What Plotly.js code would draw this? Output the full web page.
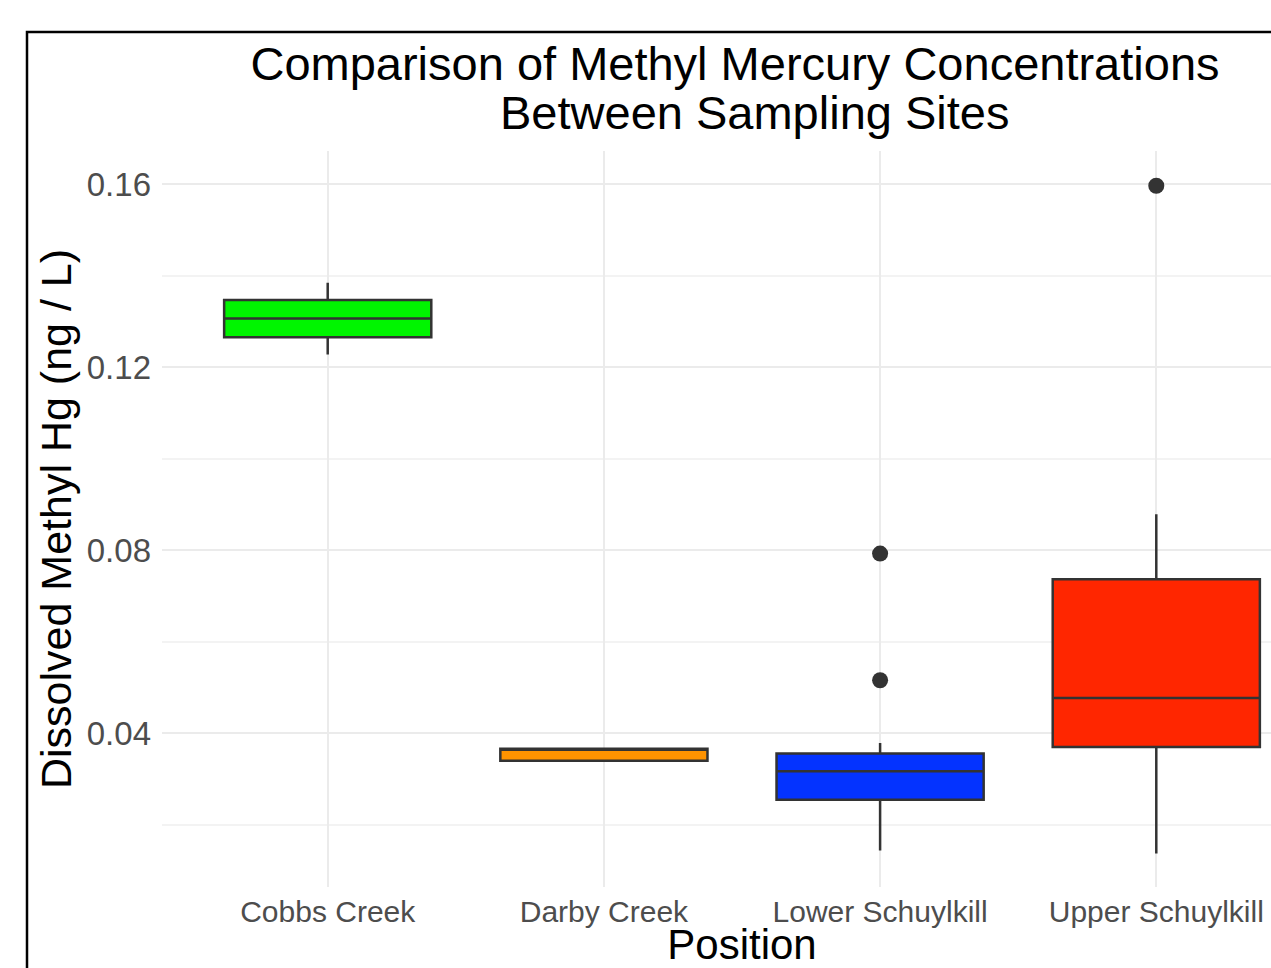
<!DOCTYPE html>
<html>
<head>
<meta charset="utf-8">
<script src="https://cdn.plot.ly/plotly-3.0.1.min.js"></script>
<style>html,body{margin:0;padding:0;background:#fff;overflow:hidden;width:1271px;height:968px;}#chart{width:1322px;height:968px;}</style>
</head>
<body>
<div id="chart"></div>
<script>
// Data
var categories = ["Cobbs Creek", "Darby Creek", "Lower Schuylkill", "Upper Schuylkill"];
var lowerWhisker = [0.1228, 0.0340, 0.0144, 0.0137];
var q1Values     = [0.1266, 0.0340, 0.0255, 0.0370];
var medianValues = [0.1307, 0.0366, 0.0317, 0.0477];
var q3Values     = [0.1347, 0.0366, 0.0356, 0.0737];
var upperWhisker = [0.1385, 0.0366, 0.0379, 0.0879];
var fillColors   = ["#00F500", "#FF9300", "#0433FF", "#FF2600"];
var outlierSites  = ["Lower Schuylkill", "Lower Schuylkill", "Upper Schuylkill"];
var outlierValues = [0.0793, 0.0516, 0.1597];
var yTickVals = [0.04, 0.08, 0.12, 0.16];
var yTickText = ["0.04", "0.08", "0.12", "0.16"];

var FONT = "Liberation Sans, Arial, Helvetica, sans-serif";
var W = 1322, ML = 162;

var traces = categories.map(function (c, i) {
  return {
    type: "box",
    x: [c],
    q1: [q1Values[i]],
    median: [medianValues[i]],
    q3: [q3Values[i]],
    lowerfence: [lowerWhisker[i]],
    upperfence: [upperWhisker[i]],
    width: 0.75,
    whiskerwidth: 0,
    fillcolor: fillColors[i],
    line: {color: "#333333", width: 2.5},
    boxpoints: false,
    hoverinfo: "skip",
    showlegend: false
  };
});

traces.push({
  type: "scatter",
  mode: "markers",
  x: outlierSites,
  y: outlierValues,
  marker: {color: "#333333", size: 16},
  hoverinfo: "skip",
  showlegend: false
});

var layout = {
  width: W,
  height: 968,
  margin: {l: ML, r: 0, t: 151, b: 81},
  paper_bgcolor: "#ffffff",
  plot_bgcolor: "#ffffff",
  boxmode: "overlay",
  font: {family: FONT, color: "#4D4D4D"},
  title: {
    text: "Comparison of Methyl Mercury Concentrations",
    font: {family: FONT, size: 47, color: "#000000"},
    xref: "paper",
    x: (735 - ML) / (W - ML),
    xanchor: "center",
    yref: "container",
    y: 1 - 64 / 968,
    yanchor: "middle"
  },
  annotations: [{
    text: "Between Sampling Sites",
    xref: "paper",
    yref: "paper",
    x: (754 - ML) / (W - ML),
    y: 1.052,
    xanchor: "center",
    yanchor: "middle",
    showarrow: false,
    font: {family: FONT, size: 47, color: "#000000"}
  }],
  xaxis: {
    type: "category",
    categoryorder: "array",
    categoryarray: categories,
    range: [-0.6, 3.6],
    showgrid: true,
    gridcolor: "#EBEBEB",
    gridwidth: 2,
    zeroline: false,
    showline: false,
    ticks: "",
    ticklabelstandoff: 4,
    tickfont: {family: FONT, size: 30, color: "#4D4D4D"},
    title: {text: "Position", font: {family: FONT, size: 42, color: "#000000"}, standoff: 12}
  },
  yaxis: {
    range: [0.0064, 0.1673],
    tickvals: yTickVals,
    ticktext: yTickText,
    showgrid: true,
    gridcolor: "#EBEBEB",
    gridwidth: 2,
    minor: {dtick: 0.02, tick0: 0, showgrid: true, gridcolor: "#F3F3F3", gridwidth: 1.5, ticks: ""},
    zeroline: false,
    showline: false,
    ticks: "",
    ticklabelstandoff: 10,
    tickfont: {family: FONT, size: 33, color: "#4D4D4D"},
    title: {text: "Dissolved Methyl Hg (ng / L)", font: {family: FONT, size: 43, color: "#000000"}, standoff: 1}
  },
  shapes: [{
    type: "rect",
    xref: "paper",
    yref: "paper",
    x0: (27 - ML) / (W - ML),
    x1: 1.2,
    y0: -0.3,
    y1: (887 - 32) / 736,
    line: {color: "#000000", width: 2.5},
    fillcolor: "rgba(0,0,0,0)",
    layer: "above"
  }]
};

Plotly.newPlot("chart", traces, layout, {displayModeBar: false, staticPlot: true});
</script>
</body>
</html>
